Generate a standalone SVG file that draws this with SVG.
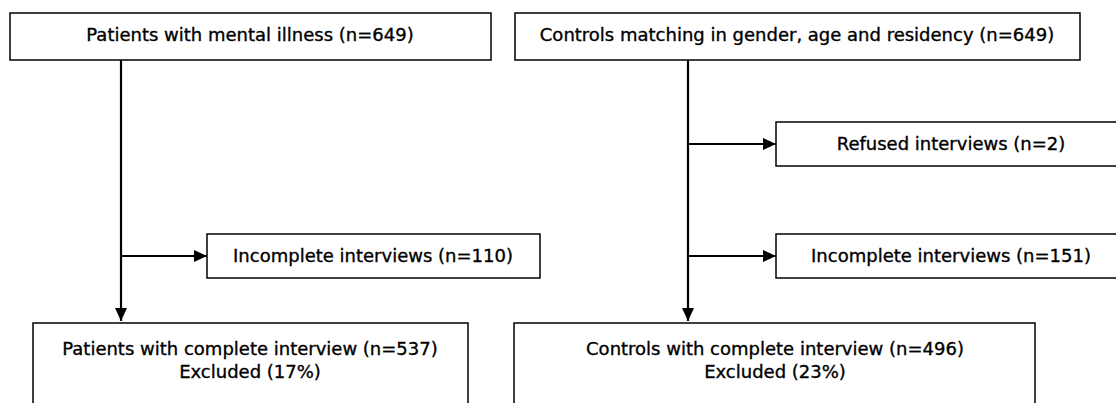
<svg xmlns="http://www.w3.org/2000/svg" width="1116" height="403" viewBox="0 0 1116 403">
<style>
.box{fill:#fff;stroke:#000;stroke-width:1.5}
.t{font-family:"DejaVu Sans",sans-serif;font-size:18px;fill:#000;stroke:#000;stroke-width:0.35;text-anchor:middle}
.c{fill:none;stroke:#000;stroke-width:2.2}
</style>
<defs>
<marker id="ah" markerWidth="13" markerHeight="12" refX="13" refY="6" orient="auto" markerUnits="userSpaceOnUse">
<path d="M0,0 L13,6 L0,12 Z" fill="#000"/>
</marker>
</defs>
<rect width="1116" height="403" fill="#fff"/>
<g id="connectors">
<path class="c" d="M121,60 V321" marker-end="url(#ah)"/>
<path class="c" d="M121,256 H207" marker-end="url(#ah)"/>
<path class="c" d="M688,60 V321" marker-end="url(#ah)"/>
<path class="c" d="M688,144 H776" marker-end="url(#ah)"/>
<path class="c" d="M688,256 H776" marker-end="url(#ah)"/>
</g>
<g id="patients">
<rect class="box" x="10" y="13" width="481" height="47"/>
<text class="t" x="250" y="41">Patients with mental illness (n=649)</text>
</g>
<g id="controls">
<rect class="box" x="515" y="13" width="565" height="47"/>
<text class="t" x="797" y="41">Controls matching in gender, age and residency (n=649)</text>
</g>
<g id="refused">
<rect class="box" x="776" y="122" width="350" height="44"/>
<text class="t" x="951" y="150">Refused interviews (n=2)</text>
</g>
<g id="incomplete-patients">
<rect class="box" x="207" y="234" width="333" height="44"/>
<text class="t" x="373" y="262">Incomplete interviews (n=110)</text>
</g>
<g id="incomplete-controls">
<rect class="box" x="776" y="234" width="350" height="44"/>
<text class="t" x="951" y="262">Incomplete interviews (n=151)</text>
</g>
<g id="patients-complete">
<rect class="box" x="33" y="323" width="435" height="100"/>
<text class="t" x="250" y="355">Patients with complete interview (n=537)</text>
<text class="t" x="250" y="378">Excluded (17%)</text>
</g>
<g id="controls-complete">
<rect class="box" x="514" y="323" width="521" height="100"/>
<text class="t" x="775" y="355">Controls with complete interview (n=496)</text>
<text class="t" x="775" y="378">Excluded (23%)</text>
</g>
</svg>
